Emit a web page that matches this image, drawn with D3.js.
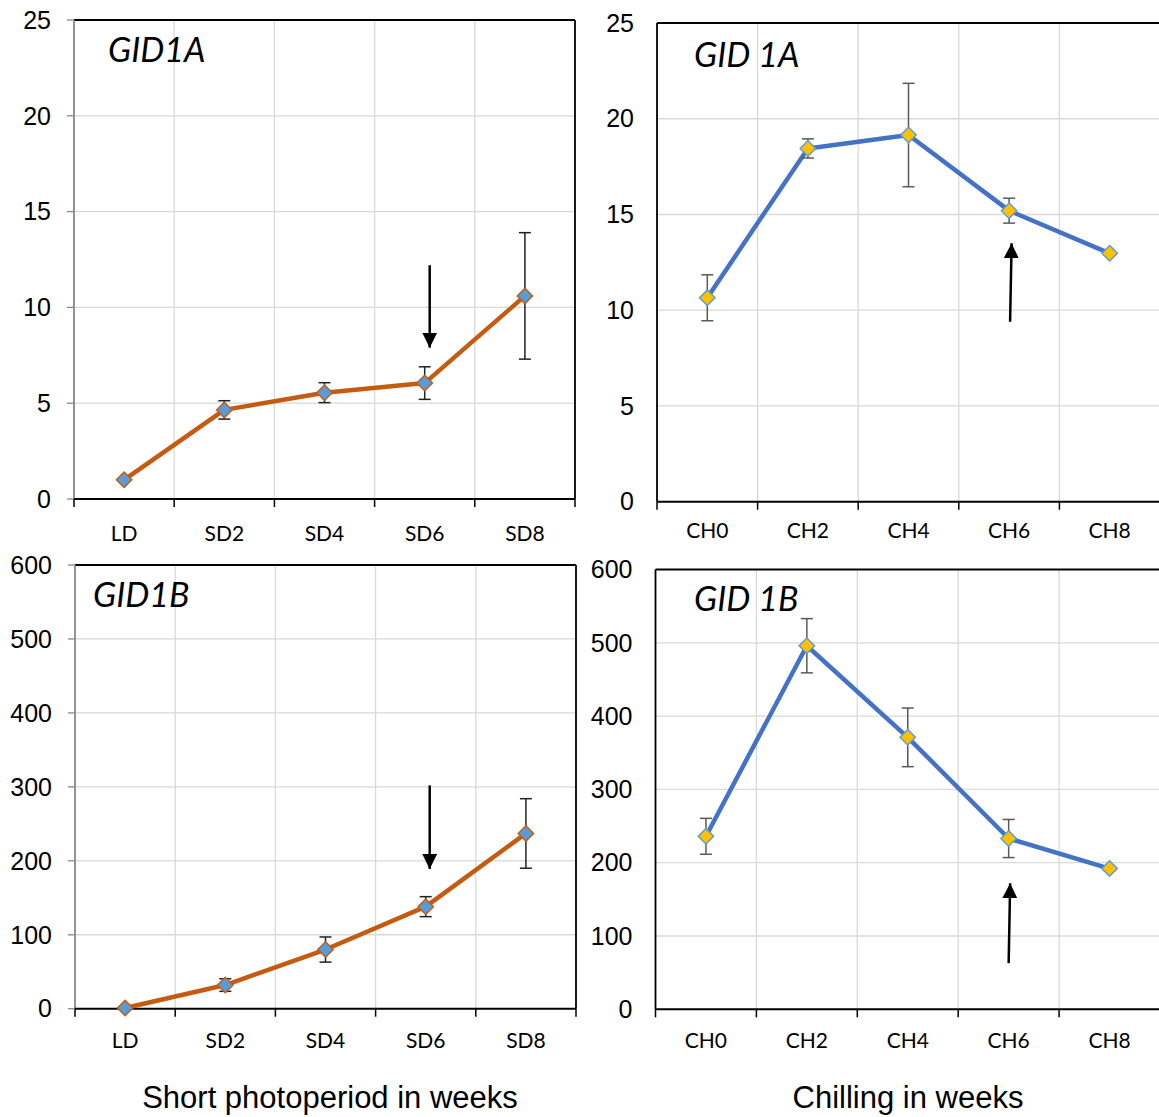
<html>
 <head>
  <title>GID1 expression</title>
  <script src="https://cdn.jsdelivr.net/npm/d3@7"></script>
  <style>
    body { margin: 0; background: #fff; }
    svg { display: block; }
    .ytick { font-family: "Liberation Sans", Arial, sans-serif; font-size: 25px; fill: #000; }
    .xtick { font-family: Lato, "Open Sans", sans-serif; font-size: 21px; fill: #000; }
    .gene { font-family: Lato, "Open Sans", sans-serif; font-style: italic; font-size: 34px; fill: #000; }
    .xtitle { font-family: "Liberation Sans", Arial, sans-serif; font-size: 31px; fill: #000; }
  </style>
 </head>
 <body>
  <div id="draw"></div>
  <script>
    // categories
    var catsSD = ["LD", "SD2", "SD4", "SD6", "SD8"];
    var catsCH = ["CH0", "CH2", "CH4", "CH6", "CH8"];

    // GID1A, relative expression
    var gid1aSD = [1.0, 4.65, 5.55, 6.05, 10.6];
    var gid1aSDErr = [0.05, 0.48, 0.52, 0.85, 3.3];
    var gid1aCH = [10.65, 18.45, 19.15, 15.2, 12.97];
    var gid1aCHErr = [1.2, 0.5, 2.7, 0.65, 0.1];

    // GID1B
    var gid1bSD = [1, 32, 80, 138, 237];
    var gid1bSDErr = [2, 8.5, 17, 13.5, 47];
    var gid1bCH = [236, 496, 371, 233, 192];
    var gid1bCHErr = [24.5, 37, 40, 26, 3];

    var ticksA = [0, 5, 10, 15, 20, 25];
    var ticksB = [0, 100, 200, 300, 400, 500, 600];

    // arrows: category, tail value, head value
    var arrowA_SD = ["SD6", 12.2, 7.9];
    var arrowA_CH = ["CH6", 9.4, 13.5];
    var arrowB_SD = ["SD6", 302, 189];
    var arrowB_CH = ["CH6", 63, 172];

    var W = 1159, H = 1117;
    var svg = d3.select("#draw").append("svg").attr("width", W).attr("height", H);

    var defs = svg.append("defs");
    defs.append("marker")
      .attr("id", "arrowhead")
      .attr("viewBox", "0 0 10 10")
      .attr("refX", 10).attr("refY", 5)
      .attr("markerUnits", "userSpaceOnUse")
      .attr("markerWidth", 15).attr("markerHeight", 15)
      .attr("orient", "auto")
      .append("path").attr("d", "M0,0 L10,5 L0,10 Z").attr("fill", "#000");

    function drawPanel(p) {
      var x = d3.scaleBand().domain(p.cats).range([p.left, p.right]);
      var y = d3.scaleLinear().domain([0, d3.max(p.ticks)]).range([p.bottom, p.top]);
      var g = svg.append("g");

      // grid
      g.selectAll(".hg").data(p.ticks.slice(1, -1)).enter().append("line")
        .attr("x1", p.left).attr("x2", p.right)
        .attr("y1", function(d) { return y(d); }).attr("y2", function(d) { return y(d); })
        .attr("stroke", "#d9d9d9").attr("stroke-width", 1.3);
      g.selectAll(".vg").data(p.cats.slice(1)).enter().append("line")
        .attr("x1", function(d) { return x(d); }).attr("x2", function(d) { return x(d); })
        .attr("y1", p.top).attr("y2", p.bottom)
        .attr("stroke", "#d9d9d9").attr("stroke-width", 1.3);

      // frame
      g.append("line").attr("x1", p.left).attr("x2", p.right).attr("y1", p.top).attr("y2", p.top)
        .attr("stroke", "#000").attr("stroke-width", 1.8);
      g.append("line").attr("x1", p.right).attr("x2", p.right).attr("y1", p.top).attr("y2", p.bottom)
        .attr("stroke", "#000").attr("stroke-width", 1.8);
      g.append("line").attr("x1", p.left).attr("x2", p.left).attr("y1", p.top).attr("y2", p.bottom)
        .attr("stroke", p.leftColor).attr("stroke-width", 1.8);

      // y ticks
      if (p.yTicks) {
        g.selectAll(".yt").data(p.ticks).enter().append("line")
          .attr("x1", p.left - 7).attr("x2", p.left)
          .attr("y1", function(d) { return y(d); }).attr("y2", function(d) { return y(d); })
          .attr("stroke", "#888").attr("stroke-width", 1.3);
      }
      g.selectAll(".yl").data(p.ticks).enter().append("text")
        .attr("class", "ytick")
        .attr("x", p.left - 23).attr("y", function(d) { return y(d); })
        .attr("dy", "0.35em").attr("text-anchor", "end")
        .text(function(d) { return d; });

      // x axis
      var bounds = p.cats.map(function(c) { return x(c); }).concat([p.right]);
      g.selectAll(".xt").data(bounds).enter().append("line")
        .attr("x1", function(d) { return d; }).attr("x2", function(d) { return d; })
        .attr("y1", p.bottom).attr("y2", p.bottom + 8)
        .attr("stroke", "#000").attr("stroke-width", 1.5);
      g.append("line").attr("x1", p.left).attr("x2", p.right).attr("y1", p.bottom).attr("y2", p.bottom)
        .attr("stroke", "#000").attr("stroke-width", 2);
      g.selectAll(".xl").data(p.cats).enter().append("text")
        .attr("class", "xtick")
        .attr("x", function(d) { return x(d) + x.bandwidth() / 2; })
        .attr("y", p.bottom + p.xLabOff)
        .attr("text-anchor", "middle")
        .text(function(d) { return d; });

      var cx = function(i) { return x(p.cats[i]) + x.bandwidth() / 2; };

      // line
      var line = d3.line().x(function(d, i) { return cx(i); }).y(function(d) { return y(d); });
      g.append("path").datum(p.values).attr("d", line)
        .attr("fill", "none").attr("stroke", p.lineColor).attr("stroke-width", 4.5)
        .attr("stroke-linejoin", "round");

      // error bars
      p.values.forEach(function(v, i) {
        var e = p.errs[i];
        if (e < 0.2 * (y.domain()[1] / 100)) return;
        var eg = g.append("g").attr("stroke", p.errColor).attr("stroke-width", 1.5);
        eg.append("line").attr("x1", cx(i)).attr("x2", cx(i)).attr("y1", y(v + e)).attr("y2", y(v - e));
        eg.append("line").attr("x1", cx(i) - 6).attr("x2", cx(i) + 6).attr("y1", y(v + e)).attr("y2", y(v + e));
        eg.append("line").attr("x1", cx(i) - 6).attr("x2", cx(i) + 6).attr("y1", y(v - e)).attr("y2", y(v - e));
      });

      // markers
      var sym = d3.symbol().type(d3.symbolSquare).size(120);
      g.selectAll(".mk").data(p.values).enter().append("path")
        .attr("d", sym)
        .attr("transform", function(d, i) { return "translate(" + cx(i) + "," + y(d) + ") rotate(45)"; })
        .attr("fill", p.markFill).attr("stroke", p.markStroke).attr("stroke-width", 1.4);

      // arrow
      var ax = cx(p.cats.indexOf(p.arrow[0])) + p.arrowDx;
      g.append("line")
        .attr("x1", ax).attr("x2", ax + p.arrowTilt)
        .attr("y1", y(p.arrow[1])).attr("y2", y(p.arrow[2]))
        .attr("stroke", "#000").attr("stroke-width", 2.5)
        .attr("marker-end", "url(#arrowhead)");

      // gene label
      g.append("text").attr("class", "gene")
        .attr("x", p.labelX).attr("y", p.labelY)
        .text(p.label);
    }

    drawPanel({ cats: catsSD, values: gid1aSD, errs: gid1aSDErr, ticks: ticksA,
      left: 74, right: 575, top: 20, bottom: 499, leftColor: "#888", yTicks: true, xLabOff: 42,
      lineColor: "#c55a11", markFill: "#5b9bd5", markStroke: "#c55a11", errColor: "#222",
      arrow: arrowA_SD, arrowDx: 5, arrowTilt: 0, label: "GID1A", labelX: 108, labelY: 62 });

    drawPanel({ cats: catsCH, values: gid1aCH, errs: gid1aCHErr, ticks: ticksA,
      left: 657, right: 1160, top: 23, bottom: 501.7, leftColor: "#000", yTicks: false, xLabOff: 36.5,
      lineColor: "#4472c4", markFill: "#ffc000", markStroke: "#5b9bd5", errColor: "#595959",
      arrow: arrowA_CH, arrowDx: 1, arrowTilt: 1.5, label: "GID 1A", labelX: 694, labelY: 67 });

    drawPanel({ cats: catsSD, values: gid1bSD, errs: gid1bSDErr, ticks: ticksB,
      left: 75, right: 576, top: 565, bottom: 1008.7, leftColor: "#888", yTicks: true, xLabOff: 39.5,
      lineColor: "#c55a11", markFill: "#5b9bd5", markStroke: "#c55a11", errColor: "#222",
      arrow: arrowB_SD, arrowDx: 4, arrowTilt: 0, label: "GID1B", labelX: 93, labelY: 607 });

    drawPanel({ cats: catsCH, values: gid1bCH, errs: gid1bCHErr, ticks: ticksB,
      left: 655.5, right: 1160, top: 569.5, bottom: 1009.3, leftColor: "#000", yTicks: false, xLabOff: 38.5,
      lineColor: "#4472c4", markFill: "#ffc000", markStroke: "#5b9bd5", errColor: "#595959",
      arrow: arrowB_CH, arrowDx: 0, arrowTilt: 1.5, label: "GID 1B", labelX: 694, labelY: 611 });

    // axis titles
    svg.append("text").attr("class", "xtitle").attr("x", 330).attr("y", 1108)
      .attr("text-anchor", "middle").text("Short photoperiod in weeks");
    svg.append("text").attr("class", "xtitle").attr("x", 908).attr("y", 1108)
      .attr("text-anchor", "middle").text("Chilling in weeks");
  </script>
 </body>
</html>
